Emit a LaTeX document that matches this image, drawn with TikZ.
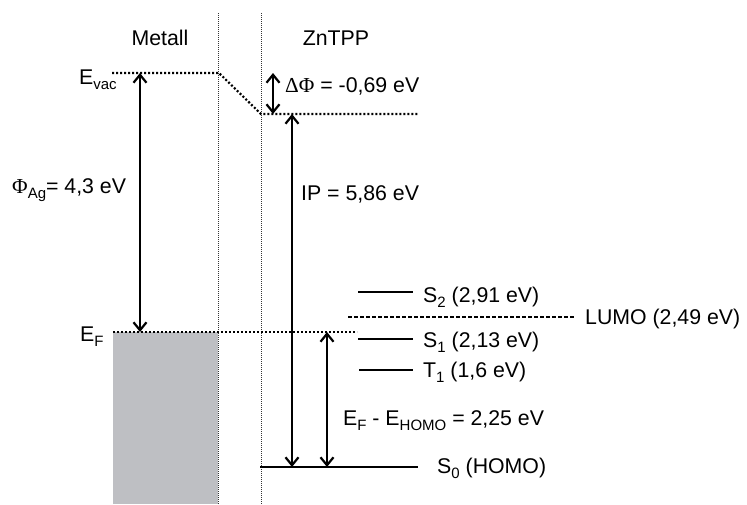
\documentclass[tikz,border=0pt]{standalone}
\usepackage{fontspec}
\setmainfont{Liberation Sans}
\newfontfamily\grfont{Liberation Serif}
\usetikzlibrary{arrows.meta}
\definecolor{metallgrau}{RGB}{190,191,195}
\newcommand{\tief}[1]{\raisebox{-5pt}{\fontsize{15}{15}\selectfont #1}}

\begin{document}
\begin{tikzpicture}[x=1pt, y=-1pt, font=\fontsize{21.3}{25}\selectfont,
    niveau/.style={line width=2.2pt},
    punktiert/.style={line width=2.2pt, dash pattern=on 2pt off 2pt},
    trenn/.style={line width=0.9pt, dash pattern=on 1pt off 1pt, black!80},
    pfeil/.style={line width=2.2pt, {Straight Barb[length=8pt,width=13pt]}-{Straight Barb[length=8pt,width=13pt]}},
    lbl/.style={anchor=base west, inner sep=0pt}]

    \useasboundingbox (0,0) rectangle (747,504);

    % Metall (besetzte Zustaende)
    \fill[metallgrau] (113,332) rectangle (218,504);

    % Trennlinien
    \draw[trenn] (218,13) -- (218,504);
    \draw[trenn] (261,13) -- (261,504);

    % Ueberschriften
    \node[anchor=base, inner sep=0pt] (metall) at (160,45) {Metall};
    \node[anchor=base, inner sep=0pt] (zntpp) at (336,45) {ZnTPP};

    % Vakuumniveau
    \coordinate (vacL) at (112,73);
    \coordinate (vacM) at (219,73);
    \coordinate (vacZ) at (261,114);
    \coordinate (vacR) at (418,114);
    \draw[punktiert] (vacL) -- (vacM) -- (vacZ) -- (vacR);
    \node[lbl] (evac) at (79,84) {E\tief{vac}};

    % Ferminiveau
    \coordinate (fermiL) at (113,332);
    \coordinate (fermiR) at (357,332);
    \draw[punktiert] (fermiL) -- (fermiR);
    \node[lbl] (ef) at (80,341) {E\tief{F}};

    % HOMO und angeregte Zustaende
    \coordinate (homoL) at (260,467);
    \coordinate (homoR) at (418,467);
    \draw[niveau] (homoL) -- (homoR);
    \node[lbl] (s0) at (437,473) {S\tief{0} (HOMO)};

    \coordinate (s2L) at (358,292);
    \coordinate (s2R) at (413,292);
    \draw[niveau] (s2L) -- (s2R);
    \node[lbl] (s2) at (423,302) {S\tief{2} (2,91 eV)};

    \coordinate (lumoL) at (348,317);
    \coordinate (lumoR) at (575,317);
    \draw[line width=2.2pt, dash pattern=on 4pt off 2pt] (lumoL) -- (lumoR);
    \node[lbl] (lumo) at (585,324) {LUMO (2,49 eV)};

    \coordinate (s1L) at (358,339);
    \coordinate (s1R) at (413,339);
    \draw[niveau] (s1L) -- (s1R);
    \node[lbl] (s1) at (423,347) {S\tief{1} (2,13 eV)};

    \coordinate (t1L) at (359,370);
    \coordinate (t1R) at (413,370);
    \draw[niveau] (t1L) -- (t1R);
    \node[lbl] (t1) at (423,377) {T\tief{1} (1,6 eV)};

    % Austrittsarbeit
    \coordinate (phiO) at (140,73);
    \coordinate (phiU) at (140,332);
    \draw[pfeil] (phiO) -- (phiU);
    \node[lbl] (phi) at (12,193) {{\grfont\char"03A6}\tief{Ag}= 4,3 eV};

    % Grenzflaechendipol
    \coordinate (dipO) at (273,73);
    \coordinate (dipU) at (273,114);
    \draw[pfeil] (dipO) -- (dipU);
    \node[lbl] (dphi) at (285,92) {{\grfont\char"0394\char"03A6} = -0,69 eV};

    % Ionisierungspotential
    \coordinate (ipO) at (292,114);
    \coordinate (ipU) at (292,467);
    \draw[pfeil] (ipO) -- (ipU);
    \node[lbl] (ip) at (301,200) {IP = 5,86 eV};

    % Lochinjektionsbarriere
    \coordinate (hibO) at (327,332);
    \coordinate (hibU) at (327,467);
    \draw[pfeil] (hibO) -- (hibU);
    \node[lbl] (hib) at (343,425) {E\tief{F} - E\tief{HOMO} = 2,25 eV};

\end{tikzpicture}
\end{document}
